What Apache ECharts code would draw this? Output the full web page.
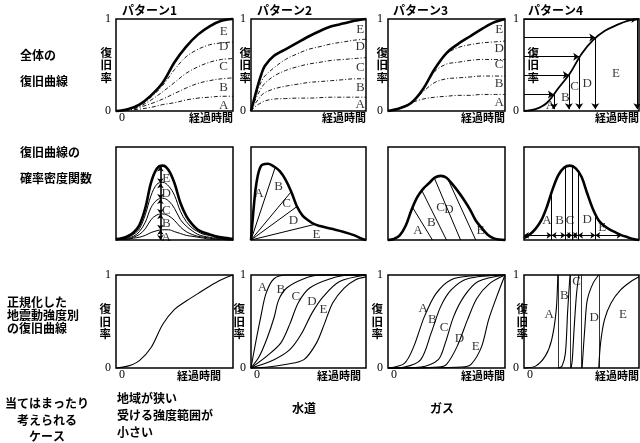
<!DOCTYPE html>
<html><head><meta charset="utf-8">
<script src="https://cdn.jsdelivr.net/npm/echarts@6/dist/echarts.min.js"></script>
<style>html,body{margin:0;padding:0;background:#fff}#c{width:640px;height:443px}</style>
</head><body><div id="c"></div>
<script>
// ---------------- DATA ----------------
// Row 1 : overall recovery curves (x = elapsed time %, y = recovery rate)
const T10 = [0,10,20,30,40,50,60,70,80,90,100];
const r1p1E = [0,0.02,0.07,0.17,0.31,0.53,0.70,0.83,0.92,0.98,1.00];
const r1p1D = [0,0.02,0.06,0.15,0.28,0.45,0.59,0.67,0.72,0.74,0.75];
const r1p1C = [0,0.015,0.05,0.12,0.21,0.31,0.41,0.48,0.53,0.56,0.57];
const r1p1B = [0,0.01,0.04,0.08,0.13,0.19,0.25,0.30,0.33,0.35,0.36];
const r1p1A = [0,0.01,0.02,0.04,0.07,0.09,0.12,0.14,0.15,0.16,0.16];
const r1p2T = [0,3,6,9,12,20,30,40,50,60,70,80,90,100];
const r1p2E = [0,0.14,0.28,0.40,0.49,0.60,0.67,0.74,0.81,0.87,0.92,0.95,0.98,1.00];
const r1p2D = [0,0.12,0.23,0.32,0.38,0.47,0.56,0.62,0.67,0.70,0.73,0.75,0.77,0.78];
const r1p2C = [0,0.10,0.18,0.25,0.30,0.38,0.44,0.48,0.51,0.53,0.55,0.56,0.57,0.58];
const r1p2B = [0,0.07,0.12,0.17,0.20,0.24,0.27,0.29,0.31,0.32,0.33,0.34,0.35,0.35];
const r1p2A = [0,0.04,0.07,0.09,0.11,0.13,0.135,0.14,0.14,0.145,0.15,0.15,0.15,0.15];
const r1p3E = [0,0.03,0.09,0.24,0.46,0.63,0.73,0.81,0.89,0.96,1.00];
const r1p3D = [0,0.03,0.09,0.24,0.46,0.62,0.69,0.72,0.74,0.75,0.76];
const r1p3C = [0,0.03,0.09,0.24,0.43,0.51,0.53,0.55,0.56,0.56,0.56];
const r1p3B = [0,0.03,0.09,0.21,0.31,0.35,0.36,0.37,0.38,0.38,0.38];
const r1p3A = [0,0.03,0.09,0.13,0.15,0.16,0.17,0.17,0.18,0.18,0.18];
const r1p4 = [0,0.02,0.09,0.25,0.41,0.62,0.77,0.87,0.93,0.98,1.00];
const r1p4Levels = [0.18,0.39,0.59,0.80,1.00];
const r1p4Times = [26,39,48,62,98.5];
const r1p1Lab = [['E',92,0.86],['D',92,0.70],['C',92,0.48],['B',92,0.26],['A',92,0.06]];
const r1p2Lab = [['E',95,0.88],['D',95,0.70],['C',95,0.47],['B',95,0.26],['A',95,0.07]];
const r1p3Lab = [['E',95,0.88],['D',95,0.68],['C',95,0.50],['B',95,0.30],['A',95,0.09]];
const r1p4Lab = [['A',23,0.06],['B',36,0.15],['C',44,0.27],['D',55,0.30],['E',80,0.41]];

// Row 2 : probability density of recovery curves
const T5 = [0,5,10,15,20,25,30,35,40,45,50,55,60,65,70,75,80,85,90,95,100];
const r2p1E = [0.01,0.02,0.04,0.08,0.16,0.34,0.62,0.77,0.80,0.75,0.61,0.40,0.26,0.17,0.11,0.08,0.06,0.04,0.03,0.02,0.01];
const r2p1D = [0.01,0.02,0.03,0.06,0.12,0.27,0.48,0.60,0.62,0.58,0.48,0.31,0.20,0.13,0.09,0.06,0.05,0.03,0.02,0.02,0.01];
const r2p1C = [0.01,0.01,0.02,0.04,0.09,0.19,0.35,0.43,0.45,0.42,0.34,0.22,0.15,0.10,0.06,0.04,0.03,0.02,0.02,0.01,0.01];
const r2p1B = [0,0.01,0.01,0.03,0.06,0.12,0.22,0.27,0.28,0.26,0.21,0.14,0.09,0.06,0.04,0.03,0.02,0.01,0.01,0.01,0];
const r2p1A = [0,0.01,0.01,0.02,0.03,0.05,0.08,0.10,0.11,0.11,0.09,0.07,0.05,0.04,0.03,0.02,0.01,0.01,0.01,0,0];
const r2p1At = 38;
const r2p1Stack = [0,0.11,0.28,0.44,0.61,0.79];
const r2p1Lab = [['E',43,0.66],['D',43,0.50],['C',43,0.32],['B',43,0.18],['A',43,0.03]];
const r2p2T = [0,2,4,6,8,10,15,20,25,30,35,40,45,50,55,60,70,80,90,97,100];
const r2p2E = [0,0.30,0.55,0.70,0.78,0.81,0.82,0.79,0.74,0.65,0.52,0.36,0.26,0.21,0.17,0.15,0.12,0.09,0.05,0.01,0];
const r2p2Rays = [[21,0.78],[35,0.52],[40,0.36],[56,0.17]];
const r2p2Lab = [['A',7,0.50],['B',24,0.57],['C',31,0.39],['D',37,0.21],['E',57,0.06]];
const r2p3 = [0,0.01,0.05,0.15,0.32,0.46,0.55,0.61,0.67,0.69,0.67,0.60,0.52,0.43,0.33,0.21,0.13,0.06,0.02,0.005,0];
const r2p3Slants = [[21,0.35,38],[29,0.53,50],[39.5,0.67,62],[51,0.66,75]];
const r2p3Lab = [['A',25.5,0.10],['B',37,0.19],['C',45,0.35],['D',52,0.33],['E',79,0.10]];
const r2p4 = [0.02,0.06,0.12,0.21,0.36,0.55,0.70,0.78,0.80,0.77,0.68,0.50,0.33,0.21,0.15,0.11,0.08,0.05,0.03,0.01,0];
const r2p4Cuts = [24,36,42,47,62];
const r2p4CutTops = [0.51,0.78,0.79,0.73,0.28];
const r2p4Spans = [0,24,36,42,47,62,85];
const r2p4SpanLevel = 0.05;
const r2p4Lab = [['A',20,0.21],['B',31,0.21],['C',40,0.21],['D',55,0.22],['E',68,0.13]];

// Row 3 : normalised recovery curves per seismic intensity
const r3p1 = [0,0.02,0.08,0.22,0.47,0.63,0.72,0.80,0.88,0.95,1.00];
const r3p2A = [[0,0],[4,0.27],[8.5,0.55],[13,0.80],[20,0.96],[31,1],[100,1]];
const r3p2B = [[0,0],[7,0.12],[14,0.32],[20,0.54],[24,0.73],[31,0.86],[46,0.96],[60,1],[100,1]];
const r3p2C = [[0,0],[14,0.13],[26,0.27],[34,0.48],[41,0.70],[51,0.86],[69,0.96],[86,1],[100,1]];
const r3p2D = [[0,0],[20,0.09],[34,0.20],[44,0.37],[53,0.59],[63,0.77],[77,0.93],[100,1]];
const r3p2E = [[0,0],[15,0.01],[31,0.04],[46,0.09],[57,0.27],[64,0.48],[71,0.70],[81,0.86],[91,0.95],[100,0.98]];
const r3p2Lab = [['A',10,0.87],['B',26,0.84],['C',39,0.77],['D',53,0.71],['E',63,0.63]];
const r3p3A = [[0,0],[14,0.05],[22,0.23],[31,0.55],[41,0.80],[54,0.95],[71,0.99],[100,1]];
const r3p3B = [[0,0],[14,0.01],[28,0.09],[37,0.38],[45,0.66],[54,0.84],[68,0.96],[100,1]];
const r3p3C = [[0,0],[28,0.01],[43,0.09],[49,0.27],[56,0.55],[65,0.77],[77,0.93],[100,1]];
const r3p3D = [[0,0],[43,0.01],[50,0.04],[59,0.23],[68,0.52],[76,0.75],[87,0.91],[100,1]];
const r3p3E = [[0,0],[63,0.01],[71,0.04],[80,0.23],[86,0.52],[93,0.77],[100,1]];
const r3p3Lab = [['A',30,0.64],['B',38,0.52],['C',48,0.43],['D',61,0.32],['E',75,0.23]];
const r3p4A = [[0,0],[10,0.02],[18.6,0.13],[24,0.30],[28,0.62],[29.4,1]];
const r3p4B = [[29.5,0],[33,0.02],[36,0.16],[38,0.62],[40,1]];
const r3p4C = [[41,0],[42,0.09],[43.7,0.45],[45.7,0.80],[47.7,1]];
const r3p4D = [[50.5,0],[53,0.45],[55,0.73],[60,0.91],[65,1]];
const r3p4E = [[65,0],[66.6,0.27],[70,0.52],[75.7,0.70],[84,0.84],[93,0.93],[100,0.98]];
const r3p4Bounds = [29.5,40,50,65];
const r3p4Lab = [['A',22,0.57],['B',35,0.78],['C',45.7,0.93],['D',61,0.54],['E',86,0.57]];

// Tick texts and other texts
const xOriginText = '0';
const titles = ['パターン1','パターン2','パターン3','パターン4'];
const rowHeads = [['全体の','復旧曲線'],['復旧曲線の','確率密度関数'],['正規化した','地震動強度別','の復旧曲線']];
const caseHead = ['当てはまったり','考えられる','ケース'];
const case1 = ['地域が狭い','受ける強度範囲が','小さい'];
const case2 = '水道', case3 = 'ガス';

// ---------------- LAYOUT ----------------
const JP = '"Noto Sans CJK JP","Noto Sans",sans-serif';
const SERIF = '"Liberation Serif","DejaVu Serif",serif';
const COLS = [{l:116,w:117},{l:251,w:115},{l:388,w:117},{l:524,w:115}];
const ROWS = [{t:19,h:92},{t:147,h:93},{t:275,h:93}];
const grids=[], xAxes=[], yAxes=[], series=[], graphic=[];

function txt(s,x,y,align,size,bold,fam){
  graphic.push({type:'text', x, y, silent:true, z:50,
    style:{text:s, fill:'#000', font:(bold===false?'':'bold ')+(size||12)+'px '+(fam||JP),
      textAlign:align||'left', textVerticalAlign:'middle', align:align||'left', verticalAlign:'middle'}});
}

function panel(r,c,o){
  const i = grids.length;
  grids.push({left:COLS[c].l, top:ROWS[r].t, width:COLS[c].w, height:ROWS[r].h, show:true,
    borderColor:'#000', borderWidth:1.5, backgroundColor:'rgba(0,0,0,0)', containLabel:false, outerBoundsMode:'none'});
  xAxes.push({gridIndex:i, type:'value', min:0, max:100, interval:100,
    axisLine:{show:false}, axisTick:{show:false}, splitLine:{show:false}, axisLabel:{show:false},
    name:o.time?'経過時間':'', nameLocation:'end', nameGap:0, nameMoveOverlap:false,
    nameTextStyle:{align:'right', verticalAlign:'top', padding:[o.timeTop||1, o.timeInset||0, 0, 0],
      color:'#000', fontFamily:JP, fontWeight:'bold', fontSize:11}});
  yAxes.push({gridIndex:i, type:'value', min:0, max:1, interval:1,
    axisLine:{show:false}, axisTick:{show:false}, splitLine:{show:false},
    axisLabel:{show:!!o.ylab, margin:5, color:'#000', fontFamily:SERIF, fontSize:12},
    name:o.yname?'復\n旧\n率':'', nameLocation:'middle', nameRotate:0, nameGap:o.yGap||0, nameMoveOverlap:false,
    nameTextStyle:{align:'right', verticalAlign:'middle', lineHeight:12.5, fontSize:11.5, fontWeight:'bold', fontFamily:JP, color:'#000',
      padding:[0,0,o.yUp||0,0]}});
  // origin label of the time axis, placed just below the panel's left corner
  if (o.x0) txt(xOriginText, COLS[c].l+6, ROWS[r].t+ROWS[r].h+7, 'center', 12, false, SERIF);
  return i;
}
const zip=(xs,ys)=>xs.map((x,k)=>[x,ys[k]]);
function line(i,data,w,type,smooth){
  series.push({type:'line', xAxisIndex:i, yAxisIndex:i, data, smooth:smooth===undefined?0.35:smooth, symbol:'none', silent:true,
    clip:false, lineStyle:{color:'#000', width:w, type:type||'solid'}, z:3});
}
function labels(i,arr){
  series.push({type:'scatter', xAxisIndex:i, yAxisIndex:i, symbolSize:1, silent:true, itemStyle:{color:'rgba(0,0,0,0)'},
    data:arr.map(a=>({name:a[0], value:[a[1],a[2]]})),
    label:{show:true, position:'inside', formatter:'{b}', color:'#000', fontFamily:SERIF, fontSize:13}, z:5});
}
function segs(i,list,sym,w,size){
  series.push({type:'lines', coordinateSystem:'cartesian2d', xAxisIndex:i, yAxisIndex:i, silent:true,
    symbol:sym, symbolSize:size||6, lineStyle:{color:'#000', width:w, opacity:1, curveness:0},
    data:list.map(c=>({coords:c})), z:4});
}
const DASH=[4,2,1,2];

// Row 1
let p = panel(0,0,{ylab:1,x0:1,time:1,yname:1,yGap:4,yUp:6});
[r1p1A,r1p1B,r1p1C,r1p1D].forEach(d=>line(p,zip(T10,d),0.9,DASH));
line(p,zip(T10,r1p1E),2.6); labels(p,r1p1Lab);
p = panel(0,1,{ylab:1,time:1,yname:1,yGap:0,yUp:6});
[r1p2A,r1p2B,r1p2C,r1p2D].forEach(d=>line(p,zip(r1p2T,d),0.9,DASH));
line(p,zip(r1p2T,r1p2E),2.6,'solid',0.3); labels(p,r1p2Lab);
p = panel(0,2,{ylab:1,time:1,yname:1,yGap:0,yUp:6});
[r1p3A,r1p3B,r1p3C,r1p3D].forEach(d=>line(p,zip(T10,d),0.9,DASH));
line(p,zip(T10,r1p3E),2.6); labels(p,r1p3Lab);
p = panel(0,3,{ylab:1,time:1,yname:1,yGap:-15,yUp:4});
line(p,zip(T10,r1p4),1.8);
segs(p,r1p4Levels.map((l,k)=>[[0,l],[r1p4Times[k],l]]),['none','arrow'],1,6);
segs(p,r1p4Levels.map((l,k)=>[[r1p4Times[k],l],[r1p4Times[k],0.02]]),['none','arrow'],1,6);
labels(p,r1p4Lab);

// Row 2
p = panel(1,0,{});
[r2p1A,r2p1B,r2p1C,r2p1D].forEach(d=>line(p,zip(T5,d),1));
line(p,zip(T5,r2p1E),2.6);
segs(p,r2p1Stack.slice(1).map((v,k)=>[[r2p1At,r2p1Stack[k]],[r2p1At,v]]),['arrow','arrow'],1.6,5);
labels(p,r2p1Lab);
p = panel(1,1,{});
line(p,zip(r2p2T,r2p2E),2.6,'solid',0.3);
segs(p,r2p2Rays.map(r=>[[0,0],r]),['none','none'],1);
labels(p,r2p2Lab);
p = panel(1,2,{});
line(p,zip(T5,r2p3),2.6);
segs(p,r2p3Slants.map(s=>[[s[0],s[1]],[s[2],0]]),['none','none'],1);
labels(p,r2p3Lab);
p = panel(1,3,{});
line(p,zip(T5,r2p4),2.6);
segs(p,r2p4Cuts.map((x,k)=>[[x,0],[x,r2p4CutTops[k]]]),['none','none'],1);
segs(p,r2p4Spans.slice(1).map((x,k)=>[[r2p4Spans[k],r2p4SpanLevel],[x,r2p4SpanLevel]]),['arrow','arrow'],1,5);
labels(p,r2p4Lab);

// Row 3
p = panel(2,0,{ylab:1,x0:1,time:1,yname:1,yGap:5,timeTop:2,timeInset:12});
line(p,zip(T10,r3p1),1.1);
p = panel(2,1,{ylab:1,x0:1,time:1,yname:1,yGap:6,timeTop:2,timeInset:5});
[r3p2A,r3p2B,r3p2C,r3p2D,r3p2E].forEach(d=>line(p,d,1.1,'solid',0.3));
labels(p,r3p2Lab);
p = panel(2,2,{ylab:1,x0:1,time:1,yname:1,yGap:5,timeTop:2});
[r3p3A,r3p3B,r3p3C,r3p3D,r3p3E].forEach(d=>line(p,d,1.1,'solid',0.3));
labels(p,r3p3Lab);
p = panel(2,3,{ylab:1,x0:1,time:1,yname:1,yGap:-4,timeTop:2});
[r3p4A,r3p4B,r3p4C,r3p4D,r3p4E].forEach(d=>line(p,d,1.1,'solid',0.3));
segs(p,r3p4Bounds.map(x=>[[x,0],[x,1]]),['none','none'],0.8);
labels(p,r3p4Lab);

// ---------------- TEXT ----------------
const titleX=[122,257,393,528];
titles.forEach((t,k)=>txt(t,titleX[k],10,'left',12));
txt(rowHeads[0][0],20,55); txt(rowHeads[0][1],20,81);
txt(rowHeads[1][0],20,152); txt(rowHeads[1][1],20,178);
txt(rowHeads[2][0],7,302); txt(rowHeads[2][1],7,315); txt(rowHeads[2][2],7,328);
txt(caseHead[0],47,403,'center'); txt(caseHead[1],47,420,'center'); txt(caseHead[2],47,436,'center');
txt(case1[0],117,398); txt(case1[1],117,415); txt(case1[2],117,432);
txt(case2,304,408,'center'); txt(case3,442,408,'center');

const chart = echarts.init(document.getElementById('c'),null,{renderer:'canvas'});
chart.setOption({animation:false, backgroundColor:'#fff', grid:grids, xAxis:xAxes, yAxis:yAxes, series, graphic});
</script></body></html>
